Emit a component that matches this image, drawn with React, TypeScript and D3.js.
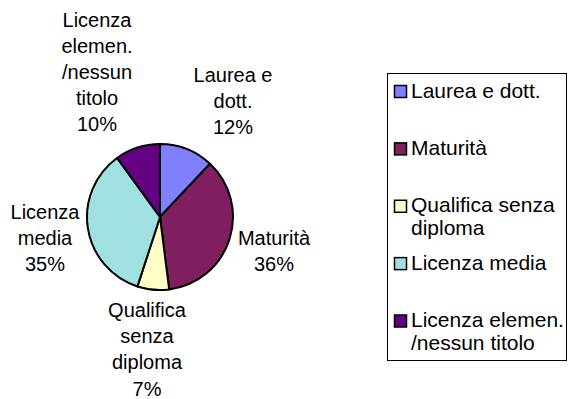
import React from "react";
import * as d3 from "d3";

const categories = ["Laurea e dott.", "Maturità", "Qualifica senza diploma", "Licenza media", "Licenza elemen. /nessun titolo"];
const values = [12, 36, 7, 35, 10];
const colors = ["#8080FF", "#7F1F5F", "#FFFFC6", "#A0E0E0", "#640082"];
const sliceLabelLines = [
  ["Laurea e", "dott.", "12%"],
  ["Maturità", "36%"],
  ["Qualifica", "senza", "diploma", "7%"],
  ["Licenza", "media", "35%"],
  ["Licenza", "elemen.", "/nessun", "titolo", "10%"],
];
const legendLines = [
  ["Laurea e dott."],
  ["Maturità"],
  ["Qualifica senza", "diploma"],
  ["Licenza media"],
  ["Licenza elemen.", "/nessun titolo"],
];

const W = 573;
const H = 399;
const cx = 160;
const cy = 217;
const R = 73;
const FONT = "'Liberation Sans', Arial, sans-serif";

// label anchors: [center x, first baseline]
const labelPos: [number, number][] = [
  [233, 81.5],
  [274, 245],
  [147, 317],
  [45, 218.5],
  [97, 26.5],
];
const LINE = 26.2;

export default function App() {
  const pie = d3.pie<number>().sort(null).value((d) => d)(values);
  const arc = d3.arc<d3.PieArcDatum<number>>().innerRadius(0).outerRadius(R);

  const legendX = 387;
  const legendY = 73;
  const legendW = 179;
  const legendH = 287;
  const rowY = d3.scalePoint<number>().domain(d3.range(categories.length)).range([97.5, 327]);

  return (
    <svg width={W} height={H} style={{ position: "absolute", left: 0, top: 0, background: "#fff" }} fontFamily={FONT}>
      <rect width={W} height={H} fill="#fff" />
      <g transform={`translate(${cx},${cy})`}>
        {pie.map((p, i) => (
          <path key={i} d={arc(p) || ""} fill={colors[i]} stroke="#000" strokeWidth={2} strokeLinejoin="round" />
        ))}
      </g>
      {sliceLabelLines.map((lines, i) => (
        <text key={i} x={labelPos[i][0]} y={labelPos[i][1]} fontSize={20} textAnchor="middle" fill="#000">
          {lines.map((l, j) => (
            <tspan key={j} x={labelPos[i][0]} y={labelPos[i][1] + j * LINE}>
              {l}
            </tspan>
          ))}
        </text>
      ))}
      <rect x={legendX + 0.5} y={legendY + 0.5} width={legendW} height={legendH} fill="#fff" stroke="#000" strokeWidth={1} />
      {categories.map((c, i) => {
        const by = rowY(i) as number;
        return (
          <g key={c}>
            <rect x={394.5} y={by - 12} width={12} height={12} fill={colors[i]} stroke="#000" strokeWidth={1.5} />
            <text x={411} y={by} fontSize={21} fill="#000">
              {legendLines[i].map((l, j) => (
                <tspan key={j} x={411} y={by + j * 23}>
                  {l}
                </tspan>
              ))}
            </text>
          </g>
        );
      })}
    </svg>
  );
}
